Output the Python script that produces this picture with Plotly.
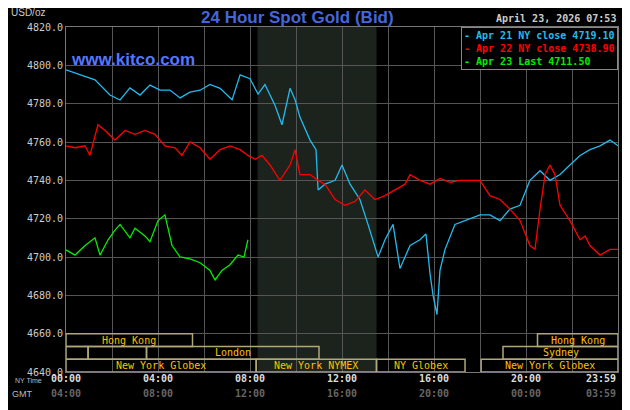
import plotly.graph_objects as go

# times in NY hours, prices in USD/oz
apr21_hours = [0, 0.61, 1.26, 1.91, 2.35, 2.78, 3.22, 3.65, 4.09, 4.52, 4.96, 5.39, 5.83, 6.26, 6.7, 7.22, 7.57, 8.0, 8.35, 8.65,
               9.09, 9.39, 9.74, 9.96, 10.17, 10.61, 10.87, 10.96, 11.26, 11.7, 12.0, 12.35, 12.78, 13.13, 13.43, 13.57, 13.87, 14.22, 14.52, 14.96,
               15.39, 15.65, 15.83, 15.96, 16.13, 16.26, 16.48, 16.91, 17.35, 18.0, 18.43, 18.87, 19.3, 19.74, 20.17, 20.61, 21.04, 21.48, 21.91, 22.35,
               22.78, 23.22, 23.65, 24.0]
apr21_price = [4797.6, 4795, 4792.4, 4784.5, 4781.9, 4788.2, 4784.5, 4789.7, 4787.1, 4787.1, 4783, 4786, 4787, 4790, 4788, 4782, 4795, 4793, 4785, 4790,
               4779, 4769, 4788, 4782, 4773, 4761, 4756, 4735, 4738, 4740, 4748, 4738, 4730, 4717, 4706, 4700, 4709, 4717, 4694, 4706,
               4709, 4712, 4691, 4680, 4670, 4693, 4704, 4717, 4719, 4722, 4722, 4719, 4725, 4727, 4740, 4745, 4740, 4743, 4748, 4753,
               4756, 4758, 4761, 4758]

apr22_hours = [0, 0.39, 0.83, 1.04, 1.39, 1.7, 2.13, 2.57, 3.0, 3.43, 3.87, 4.3, 4.74, 5.04, 5.39, 5.83, 6.26, 6.7, 7.13, 7.57,
               7.91, 8.22, 8.52, 8.87, 9.3, 9.74, 9.96, 10.17, 10.61, 10.96, 11.26, 11.7, 12.13, 12.57, 13.0, 13.43, 13.87, 14.3, 14.74, 14.96,
               15.39, 15.83, 16.26, 16.7, 17.13, 17.57, 18.0, 18.43, 18.87, 19.3, 19.74, 20.17, 20.39, 20.61, 20.83, 21.04, 21.26, 21.48, 21.91, 22.35,
               22.57, 22.78, 23.22, 23.65, 24.0]
apr22_price = [4758, 4757, 4758, 4753, 4769, 4766, 4761, 4766, 4764, 4766, 4764, 4758, 4757, 4753, 4760, 4757, 4751, 4756, 4758, 4756,
               4753, 4751, 4753, 4748, 4740, 4748, 4756, 4743, 4743, 4740, 4738, 4730, 4727, 4729, 4735, 4730, 4732, 4735, 4738, 4743,
               4740, 4738, 4741, 4739, 4740, 4740, 4740, 4732, 4730, 4725, 4719, 4706, 4704, 4725, 4743, 4748, 4743, 4727, 4719, 4709,
               4711, 4706, 4701, 4704, 4704]

apr23_hours = [0, 0.39, 0.83, 1.26, 1.48, 1.83, 2.13, 2.35, 2.78, 3.0, 3.43, 3.65, 4.0, 4.3, 4.61, 4.96, 5.39, 5.83, 6.26, 6.48,
               6.78, 7.13, 7.48, 7.74, 7.91]
apr23_price = [4703.7, 4701, 4706, 4710, 4701, 4709, 4714, 4717, 4710, 4715, 4711, 4708, 4719, 4722, 4706, 4700, 4699, 4697, 4693, 4688,
               4693, 4696, 4701, 4700, 4709]

# sessions: (name, start hour, end hour, row)
sessions = [("Hong Kong", 0, 5.5, 0), ("Hong Kong", 20.5, 24, 0),
            ("", 0, 0.96, 1), ("", 0.96, 3.5, 1), ("London", 3.5, 11.0, 1), ("Sydney", 19.0, 24, 1),
            ("New York Globex", 0, 8.27, 2), ("New York NYMEX", 8.27, 13.5, 2),
            ("NY Globex", 13.5, 17.35, 2), ("New York Globex", 18.05, 24, 2)]

ny_ticks = [0, 4, 8, 12, 16, 20, 24]
ny_labels = ["00:00", "04:00", "08:00", "12:00", "16:00", "20:00", "23:59"]
gmt_labels = ["04:00", "08:00", "12:00", "16:00", "20:00", "00:00", "03:59"]

mono = "DejaVu Sans Mono"
sans = "Liberation Sans"
fig = go.Figure()

fig.add_shape(type="rect", x0=8.33, x1=13.5, y0=4640, y1=4820, fillcolor="#1c221c", line_width=0, layer="below")

fig.add_trace(go.Scatter(x=apr21_hours, y=apr21_price, mode="lines", line=dict(color="#22bbee", width=1.3)))
fig.add_trace(go.Scatter(x=apr22_hours, y=apr22_price, mode="lines", line=dict(color="#ff0000", width=1.3)))
fig.add_trace(go.Scatter(x=apr23_hours, y=apr23_price, mode="lines", line=dict(color="#00ee00", width=1.3)))

row_h = 20 / 3
for name, s, e, row in sessions:
    y1 = 4660 - row * row_h
    fig.add_shape(type="rect", x0=s, x1=e, y0=y1 - row_h, y1=y1, line=dict(color="#b0a878", width=1.5),
                  fillcolor="rgba(0,0,0,0)")
    if name:
        fig.add_annotation(x=(s + e) / 2, y=y1 - row_h / 2, text=name, showarrow=False,
                           font=dict(family=mono, size=10, color="#ffc000"))

for t, a, b in zip(ny_ticks, ny_labels, gmt_labels):
    anchor = "right" if t == 24 else "center"
    fig.add_annotation(x=t, y=-0.04, xref="x", yref="paper", text="<b>" + a + "</b>", showarrow=False,
                       xanchor=anchor, font=dict(family=mono, size=10, color="#dddddd"))
    fig.add_annotation(x=t, y=-0.085, xref="x", yref="paper", text="<b>" + b + "</b>", showarrow=False,
                       xanchor=anchor, font=dict(family=mono, size=10, color="#666666"))

fig.add_annotation(x=-0.04, y=-0.04, xref="paper", yref="paper", text="NY Time", showarrow=False,
                   xanchor="right", font=dict(family=sans, size=7, color="#bbbbbb"))
fig.add_annotation(x=-0.058, y=-0.085, xref="paper", yref="paper", text="GMT", showarrow=False,
                   xanchor="right", font=dict(family=sans, size=9, color="#bbbbbb"))

fig.add_annotation(x=-0.104, y=1.043, xref="paper", yref="paper", text="USD/oz", showarrow=False,
                   xanchor="left", yanchor="middle", font=dict(family=sans, size=10, color="#cccccc"))
fig.add_annotation(x=0.42, y=1.027, xref="paper", yref="paper", text="<b>24 Hour Spot Gold (Bid)</b>",
                   showarrow=False, yanchor="middle", font=dict(family=sans, size=17, color="#4466dd"))
fig.add_annotation(x=1.0, y=1.024, xref="paper", yref="paper", text="<b>April 23, 2026 07:53</b>", showarrow=False,
                   xanchor="right", yanchor="middle", font=dict(family=mono, size=10, color="#cccccc"))
fig.add_annotation(x=0.005, y=0.94, xref="paper", yref="paper", text="<b>www.kitco.com</b>", showarrow=False,
                   xanchor="left", font=dict(family=sans, size=17, color="#5577ff"))
fig.add_annotation(x=1.0, y=1.0, xref="paper", yref="paper", xanchor="right", yanchor="top", showarrow=False,
                   align="left", bgcolor="#000000", bordercolor="#888888", borderwidth=1, borderpad=2,
                   text="<b><span style='color:#22bbee'>- Apr 21 NY close 4719.10</span><br>"
                        "<span style='color:#ff0000'>- Apr 22 NY close 4738.90</span><br>"
                        "<span style='color:#00ee00'>- Apr 23 Last 4711.50</span></b>",
                   font=dict(family=mono, size=10))

fig.update_xaxes(range=[0, 24], tickvals=list(range(0, 25, 2)), showticklabels=False, showgrid=True,
                 gridcolor="#555555", zeroline=False, showline=True, linecolor="#777777", mirror=True,
                 automargin=False)
fig.update_yaxes(range=[4640, 4820], dtick=20, tickformat=".1f", showgrid=True, gridcolor="#555555",
                 zeroline=False, showline=True, linecolor="#777777", mirror=True, automargin=False,
                 tickfont=dict(family=mono, size=10, color="#cccccc"))
# page adds an 8px body margin, so the figure is drawn 8px smaller and the margins shifted
fig.update_layout(width=622, height=402, margin=dict(l=58, r=12, t=19, b=38), showlegend=False,
                  paper_bgcolor="#000000", plot_bgcolor="#000000")

fig.write_html("out.html")
